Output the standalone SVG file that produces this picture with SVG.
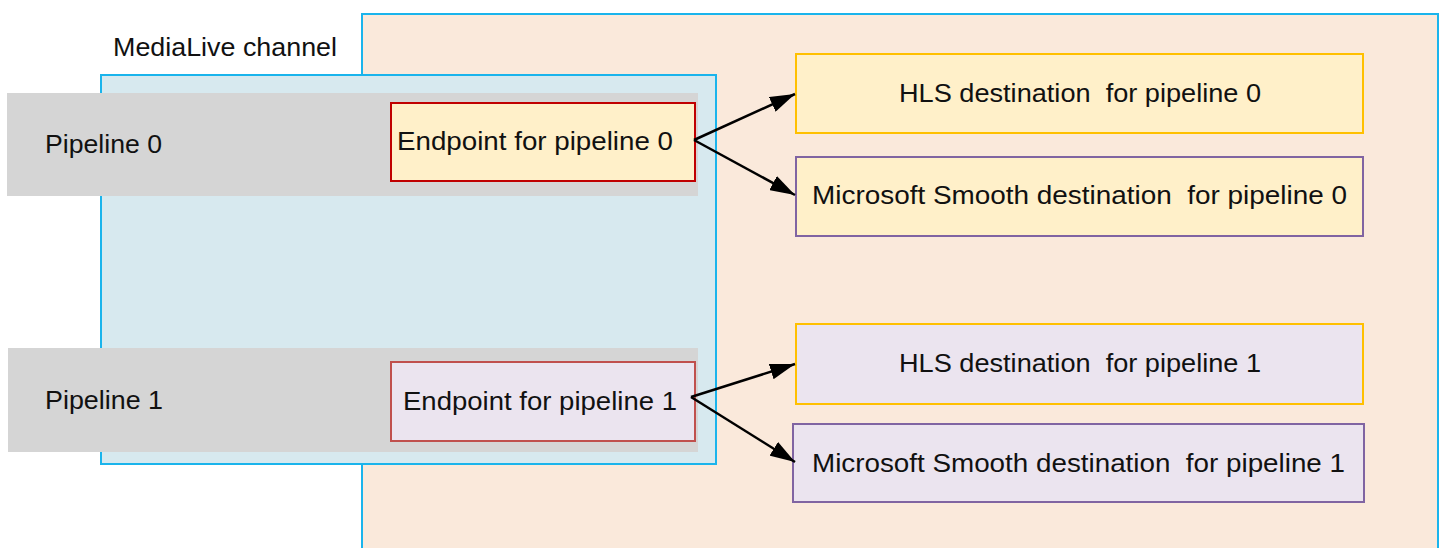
<svg xmlns="http://www.w3.org/2000/svg" width="1442" height="548" viewBox="0 0 1442 548">
<defs>
<style>
text{font-family:"Liberation Sans",Arial,sans-serif;font-size:26px;fill:#111;white-space:pre}
.ln{stroke:#000;stroke-width:2.5;fill:none}
.gray{fill:#d5d5d5}
.hls{stroke:#ffc000;stroke-width:2}
.mss{stroke:#8064a2;stroke-width:2}
.y{fill:#fff0c9}
.v{fill:#ebe4ef}
</style>
<marker id="arr" viewBox="0 0 25 16" refX="25" refY="8" markerWidth="25" markerHeight="16" markerUnits="userSpaceOnUse" orient="auto">
<path d="M0,0 L25,8 L0,16 z" fill="#000"/>
</marker>
</defs>
<rect width="1442" height="548" fill="#fff"/>
<g id="destinations-area">
<rect x="362" y="14" width="1076" height="540" fill="#fae9db" stroke="#1ab4ec" stroke-width="2"/>
</g>
<g id="medialive-channel">
<rect x="101" y="75" width="615" height="389" fill="#d7e9ef" stroke="#1ab4ec" stroke-width="2"/>
<text x="113" y="56" textLength="224" lengthAdjust="spacingAndGlyphs">MediaLive channel</text>
</g>
<g id="pipeline-0">
<rect class="gray" x="7" y="93" width="691" height="103"/>
<text x="45" y="153" textLength="117" lengthAdjust="spacingAndGlyphs">Pipeline 0</text>
</g>
<g id="pipeline-1">
<rect class="gray" x="8" y="348" width="690" height="104"/>
<text x="45" y="409" textLength="118" lengthAdjust="spacingAndGlyphs">Pipeline 1</text>
</g>
<g id="endpoint-0">
<rect x="391" y="103" width="304" height="78" class="y" stroke="#c00000" stroke-width="2"/>
<text x="397" y="150" textLength="276" lengthAdjust="spacingAndGlyphs">Endpoint for pipeline 0</text>
</g>
<g id="endpoint-1">
<rect x="391" y="362" width="304" height="79" class="v" stroke="#c0504d" stroke-width="2"/>
<text x="403" y="410" textLength="274" lengthAdjust="spacingAndGlyphs">Endpoint for pipeline 1</text>
</g>
<g id="hls-0">
<rect x="796" y="54" width="567" height="79" class="y hls"/>
<text x="899" y="102" textLength="362" lengthAdjust="spacingAndGlyphs">HLS destination  for pipeline 0</text>
</g>
<g id="mss-0">
<rect x="796" y="157" width="567" height="79" class="y mss"/>
<text x="812" y="204" textLength="535" lengthAdjust="spacingAndGlyphs">Microsoft Smooth destination  for pipeline 0</text>
</g>
<g id="hls-1">
<rect x="796" y="324" width="567" height="80" class="v hls"/>
<text x="899" y="372" textLength="362" lengthAdjust="spacingAndGlyphs">HLS destination  for pipeline 1</text>
</g>
<g id="mss-1">
<rect x="793" y="424" width="571" height="78" class="v mss"/>
<text x="812" y="472" textLength="533" lengthAdjust="spacingAndGlyphs">Microsoft Smooth destination  for pipeline 1</text>
</g>
<g id="connectors">
<line class="ln" x1="694" y1="140" x2="795" y2="94" marker-end="url(#arr)"/>
<line class="ln" x1="694" y1="140" x2="795" y2="195" marker-end="url(#arr)"/>
<line class="ln" x1="691" y1="397" x2="795" y2="364" marker-end="url(#arr)"/>
<line class="ln" x1="691" y1="397" x2="795" y2="462" marker-end="url(#arr)"/>
</g>
</svg>
